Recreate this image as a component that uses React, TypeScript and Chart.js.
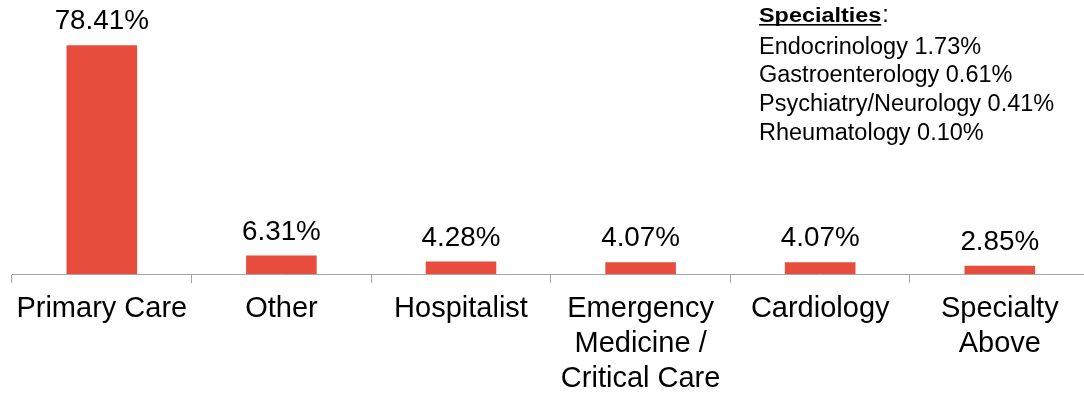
import React, { useEffect, useRef } from "react";
import { Chart, registerables } from "chart.js";

Chart.register(...registerables);

// Share of respondents by practice area
const categories: (string | string[])[] = [
  "Primary Care",
  "Other",
  "Hospitalist",
  ["Emergency", "Medicine /", "Critical Care"],
  "Cardiology",
  ["Specialty", "Above"],
];
const shares: number[] = [78.41, 6.31, 4.28, 4.07, 4.07, 2.85];

// Breakdown of the "Specialty Above" group
const noteTitle = "Specialties";
const specialtyNames: string[] = [
  "Endocrinology",
  "Gastroenterology",
  "Psychiatry/Neurology",
  "Rheumatology",
];
const specialtyShares: number[] = [1.73, 0.61, 0.41, 0.1];

const BAR_COLOR = "#e84c3d";
const AXIS_COLOR = "#a6a6a6";
const FONT = "'Liberation Sans', Arial, Helvetica, sans-serif";

const CANVAS_W = 1100;
const CANVAS_H = 393;

const fmt = (v: number) => `${v.toFixed(2)}%`;

// Percent label above each bar
const valueLabels = {
  id: "valueLabels",
  afterDatasetsDraw(chart: any) {
    const { ctx } = chart;
    const meta = chart.getDatasetMeta(0);
    ctx.save();
    ctx.font = `27.8px ${FONT}`;
    ctx.fillStyle = "#000";
    ctx.textAlign = "center";
    ctx.textBaseline = "alphabetic";
    meta.data.forEach((bar: any, i: number) => {
      ctx.fillText(fmt(shares[i]), bar.x, bar.y - 16);
    });
    ctx.restore();
  },
};

// Text block listing the specialties grouped into the last bar
const specialtyNote = {
  id: "specialtyNote",
  afterDraw(chart: any) {
    const { ctx } = chart;
    const x = 759;
    const stretch = 1.2;
    ctx.save();
    ctx.fillStyle = "#000";
    ctx.textAlign = "left";
    ctx.textBaseline = "alphabetic";

    // underlined, slightly widened bold heading
    ctx.font = `bold 19.5px ${FONT}`;
    const w = ctx.measureText(noteTitle).width * stretch;
    ctx.save();
    ctx.translate(x, 22);
    ctx.scale(stretch, 1);
    ctx.fillText(noteTitle, 0, 0);
    ctx.restore();
    ctx.fillRect(x, 24, w, 1.6);

    ctx.font = `23.5px ${FONT}`;
    ctx.fillText(":", x + w + 1, 22);
    specialtyNames.forEach((name, i) => {
      ctx.fillText(`${name} ${fmt(specialtyShares[i])}`, x, 53.5 + i * 28.8);
    });
    ctx.restore();
  },
};

export default function App() {
  const canvasRef = useRef<HTMLCanvasElement | null>(null);

  useEffect(() => {
    const canvas = canvasRef.current;
    if (!canvas) return;
    const chart = new Chart(canvas, {
      type: "bar",
      data: {
        labels: categories as any,
        datasets: [
          {
            data: shares,
            backgroundColor: BAR_COLOR,
            borderWidth: 0,
            categoryPercentage: 1,
            barPercentage: 0.393,
          },
        ],
      },
      options: {
        animation: false,
        responsive: false,
        maintainAspectRatio: false,
        devicePixelRatio: 1,
        layout: { padding: { left: 12, right: 10.4, top: 11.5, bottom: 0 } },
        plugins: {
          legend: { display: false },
          tooltip: { enabled: false },
        },
        scales: {
          x: {
            offset: true,
            grid: {
              offset: true,
              drawOnChartArea: false,
              drawTicks: true,
              tickLength: 9,
              color: AXIS_COLOR,
              lineWidth: 1,
            },
            border: { display: true, color: AXIS_COLOR, width: 1 },
            ticks: {
              color: "#000",
              font: { family: FONT, size: 29, lineHeight: 1.2 },
              padding: 9,
              maxRotation: 0,
              minRotation: 0,
              autoSkip: false,
            },
            afterFit: (scale: any) => {
              scale.height = CANVAS_H - 274;
            },
          },
          y: { display: false, min: 0, max: 90 },
        },
      },
      plugins: [valueLabels, specialtyNote],
    });
    return () => chart.destroy();
  }, []);

  return (
    <div
      style={{
        position: "fixed",
        left: 0,
        top: 0,
        width: 1084,
        height: 393,
        overflow: "hidden",
        background: "#fff",
      }}
    >
      <canvas
        ref={canvasRef}
        width={CANVAS_W}
        height={CANVAS_H}
        style={{ display: "block", width: CANVAS_W, height: CANVAS_H }}
      />
    </div>
  );
}
